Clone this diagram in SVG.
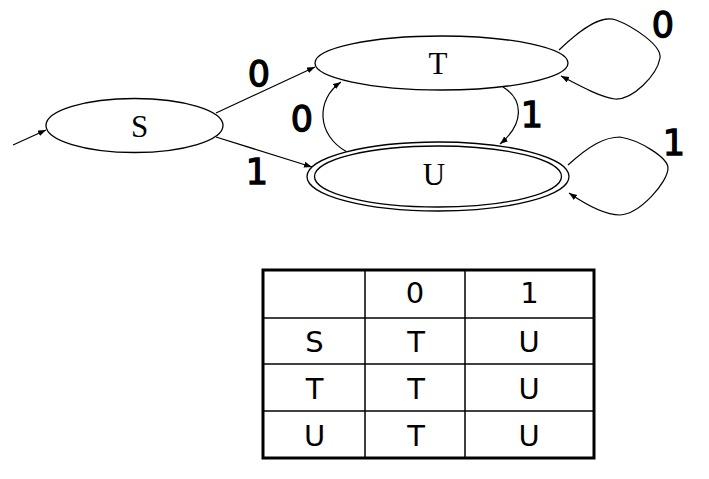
<svg xmlns="http://www.w3.org/2000/svg" width="709" height="479" viewBox="0 0 709 479">
  <style>
    .state { fill: #fff; stroke: #000; stroke-width: 1.3; }
    .name { font-family: "Liberation Serif", "Times New Roman", serif; font-size: 31px; text-anchor: middle; fill: #000; }
    .edge { fill: none; stroke: #000; stroke-width: 1.2; marker-end: url(#arrow); }
    .sym { font-family: "DejaVu Sans", "Liberation Sans", sans-serif; font-size: 35px; text-anchor: middle; fill: #000; stroke: #000; stroke-width: 1.3; }
    .cell { font-family: "DejaVu Sans", "Liberation Sans", sans-serif; font-size: 29px; text-anchor: middle; fill: #000; }
    .grid { stroke: #000; stroke-width: 1.5; }
  </style>
  <defs>
    <marker id="arrow" markerUnits="userSpaceOnUse" markerWidth="9" markerHeight="7" refX="8" refY="3" orient="auto">
      <path d="M0,0 L8,3 L0,6 z" fill="#000"/>
    </marker>
  </defs>
  <rect width="709" height="479" fill="#fff"/>

  <!-- transitions -->
  <g id="connectors">
    <path class="edge" d="M13,145 L46,130"/>
    <path class="edge" d="M216,113 L315,67"/>
    <path class="edge" d="M216,137 L312,167"/>
    <path class="edge" d="M347,152 C316,135 316,99 341,82"/>
    <path class="edge" d="M503,87 C524,100 524,124 500,144"/>
    <path class="edge" d="M559,50 C585,25 603,15 616,20 C632,26 662,45 660,58 C657,75 633,100 615,99 C600,97 580,86 561,76"/>
    <path class="edge" d="M568,165 C590,145 605,137 620,137 C640,140 668,158 668,168 C668,182 640,214 620,215 C605,215 585,204 569,193"/>
    <text class="sym" x="259" y="86">0</text>
    <text class="sym" x="257" y="184">1</text>
    <text class="sym" x="302" y="131">0</text>
    <text class="sym" x="532" y="127">1</text>
    <text class="sym" x="663" y="37">0</text>
    <text class="sym" x="674" y="155">1</text>
  </g>

  <g id="node-S">
    <ellipse class="state" cx="134.5" cy="125.5" rx="88.5" ry="27"/>
    <text class="name" x="139.5" y="137">S</text>
  </g>
  <g id="node-T">
    <ellipse class="state" cx="441.5" cy="63" rx="126.5" ry="27"/>
    <text class="name" x="438" y="74">T</text>
  </g>
  <g id="node-U">
    <ellipse class="state" cx="438" cy="176.5" rx="131" ry="34.5"/>
    <ellipse class="state" cx="438" cy="176.5" rx="123.5" ry="30.5"/>
    <text class="name" x="434" y="185">U</text>
  </g>

  <!-- transition table -->
  <g id="table">
    <rect x="263" y="270" width="331" height="188" fill="none" stroke="#000" stroke-width="3"/>
    <line class="grid" x1="365" y1="270" x2="365" y2="458"/>
    <line class="grid" x1="465" y1="270" x2="465" y2="458"/>
    <line class="grid" x1="263" y1="318" x2="594" y2="318"/>
    <line class="grid" x1="263" y1="364" x2="594" y2="364"/>
    <line class="grid" x1="263" y1="411" x2="594" y2="411"/>
    <text class="cell" x="415" y="303">0</text>
    <text class="cell" x="529.5" y="303">1</text>
    <text class="cell" x="314.5" y="352">S</text>
    <text class="cell" x="416" y="352">T</text>
    <text class="cell" x="529" y="352">U</text>
    <text class="cell" x="314.5" y="398.5">T</text>
    <text class="cell" x="416" y="398.5">T</text>
    <text class="cell" x="529" y="398.5">U</text>
    <text class="cell" x="314.5" y="445.5">U</text>
    <text class="cell" x="416" y="445.5">T</text>
    <text class="cell" x="529" y="445.5">U</text>
  </g>
</svg>
